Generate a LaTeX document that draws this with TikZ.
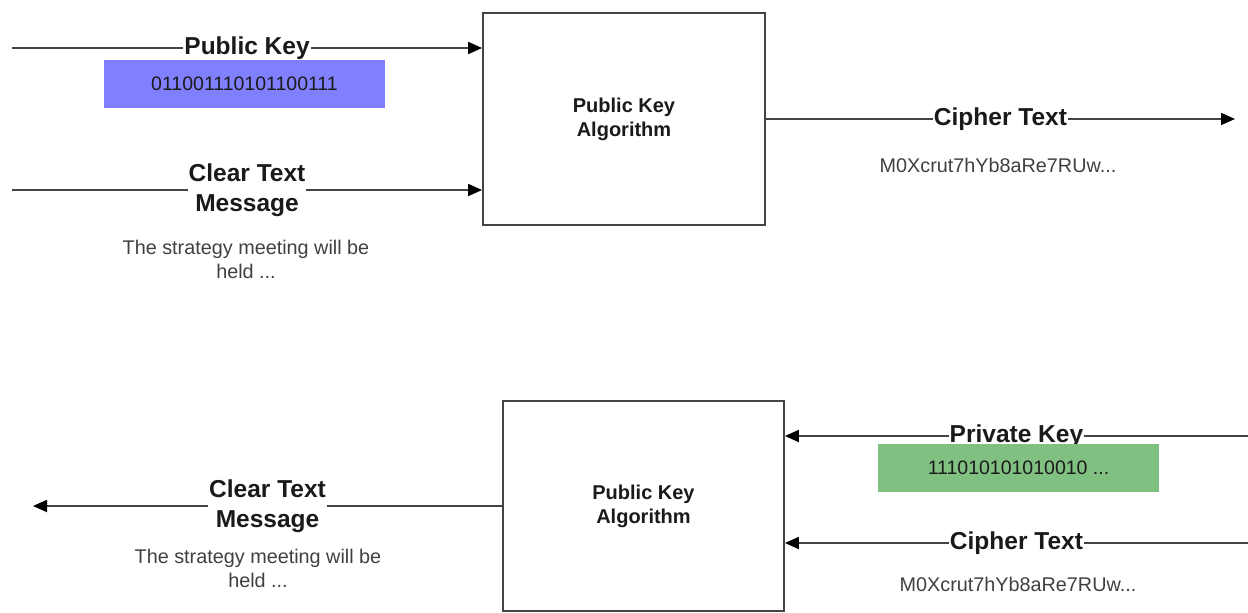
\documentclass[tikz,border=0pt]{standalone}
\usepackage{fontspec}
\setmainfont{Liberation Sans}
\usetikzlibrary{arrows.meta}
\definecolor{keyblue}{HTML}{8080FF}
\definecolor{keygreen}{HTML}{80C080}
\definecolor{linegray}{HTML}{444444}
\definecolor{txtgray}{HTML}{1A1A1A}
\tikzset{
  algbox/.style={draw=linegray, line width=1.8pt, fill=white, align=center, inner sep=0pt,
    font=\fontsize{20}{24}\selectfont\bfseries, text=txtgray},
  conn/.style={draw=linegray, line width=1.8pt, -{Triangle[length=14pt,width=12pt,color=black]}},
  lbl/.style={fill=white, inner xsep=1pt, inner ysep=0pt, align=center,
    font=\fontsize{24.5}{30}\selectfont\bfseries, text=txtgray},
  keybox/.style={minimum width=281pt, minimum height=48pt, inner sep=0pt,
    font=\fontsize{19.5}{24}\selectfont, text=txtgray},
  note/.style={align=center, inner sep=0pt, font=\fontsize{19.8}{24}\selectfont, text=black!75}
}
\begin{document}
\begin{tikzpicture}[x=1pt,y=-1pt]
\useasboundingbox (0,0) rectangle (1248,613);
% top: encryption
\node[algbox, minimum width=282pt, minimum height=212pt] (box1) at (624,119) {Public Key\\Algorithm};
\coordinate (pkin) at (12,48);
\coordinate (ctin) at (12,190);
\coordinate (cout) at (1235,119);
\draw[conn] (pkin) -- (box1.west |- pkin) node[midway, lbl] (pklbl) {Public Key};
\draw[conn] (ctin) -- (box1.west |- ctin) node[midway, lbl] (ctlbl) {Clear Text\\Message};
\draw[conn] (box1.east) -- (cout) node[midway, lbl] (colbl) {Cipher Text};
\node[keybox, fill=keyblue] (pkval) at (244.5,84) {011001110101100111};
\node[note] (msg1) at (246,259) {The strategy meeting will be\\held ...};
\node[note] (cip1) at (998,165) {M0Xcrut7hYb8aRe7RUw...};
% bottom: decryption
\node[algbox, minimum width=281pt, minimum height=210pt] (box2) at (643.5,506) {Public Key\\Algorithm};
\coordinate (prin) at (1248,436);
\coordinate (cin2) at (1248,543);
\coordinate (mout) at (33,506);
\draw[conn] (prin) -- (box2.east |- prin) node[midway, lbl] (prlbl) {Private Key};
\draw[conn] (cin2) -- (box2.east |- cin2) node[midway, lbl] (cilbl) {Cipher Text};
\draw[conn] (box2.west) -- (mout) node[midway, lbl] (molbl) {Clear Text\\Message};
\node[keybox, fill=keygreen] (prval) at (1018.5,468) {111010101010010 ...};
\node[note] (cip2) at (1018,584) {M0Xcrut7hYb8aRe7RUw...};
\node[note] (msg2) at (258,568) {The strategy meeting will be\\held ...};
\end{tikzpicture}
\end{document}
